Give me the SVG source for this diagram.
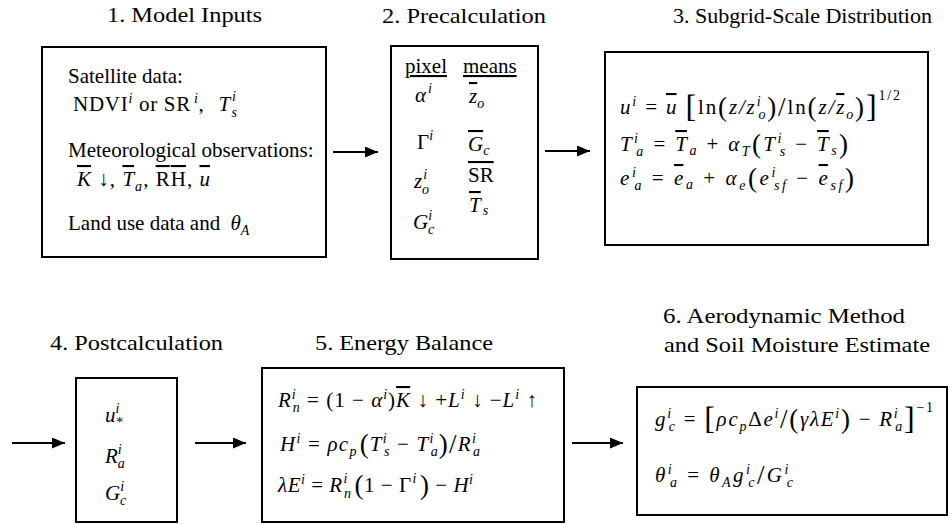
<svg xmlns="http://www.w3.org/2000/svg" width="952" height="524" viewBox="0 0 952 524">
<style>
text { font-family: "Liberation Serif", "Times New Roman", serif; font-size: 21px; fill: #000; }
.i { font-style: italic; }
.s { font-size: 14px; }
.big { font-size: 32px; font-style: normal; }
.med { font-size: 27px; font-style: normal; }
.ov { text-decoration: overline; }
.ul { text-decoration: underline; }
.box { fill: #fff; stroke: #000; stroke-width: 2; }
.conn line { stroke: #000; stroke-width: 2; }
</style>
<defs>
<marker id="ah" markerWidth="13" markerHeight="11" refX="13" refY="5.5" orient="auto" markerUnits="userSpaceOnUse">
<path d="M0,0 L13,5.5 L0,11 z" fill="#000"/>
</marker>
</defs>
<rect width="952" height="524" fill="#fff"/>

<g id="n1">
<text x="107" y="22" textLength="155" lengthAdjust="spacingAndGlyphs">1. Model Inputs</text>
<rect class="box" x="42" y="47" width="284" height="210"/>
<text x="68" y="83">Satellite data:</text>
<text x="73" y="111" textLength="164" lengthAdjust="spacing">NDVI<tspan class="s i" dy="-8">i</tspan><tspan dy="8"> or SR</tspan><tspan class="s i" dy="-8" dx="3">i</tspan><tspan dy="8">, </tspan><tspan class="i" dx="8">T</tspan><tspan class="s i" dy="-10" dx="1">i</tspan><tspan class="s i" dx="-5" dy="16">s</tspan></text>
<text x="68" y="157">Meteorological observations:</text>
<text x="77" y="186" textLength="133" lengthAdjust="spacing"><tspan class="i ov">K</tspan> ↓, <tspan class="i ov">T</tspan><tspan class="s i" dy="5">a</tspan><tspan dy="-5">, </tspan><tspan class="ov">RH</tspan>, <tspan class="i ov">u</tspan></text>
<text x="68" y="230">Land use data and <tspan class="i" dx="5">θ</tspan><tspan class="s i" dy="5">A</tspan></text>
</g>

<g id="n2">
<text x="382" y="23" textLength="164" lengthAdjust="spacingAndGlyphs">2. Precalculation</text>
<rect class="box" x="391" y="46" width="147" height="213"/>
<text x="405" y="73"><tspan class="ul">pixel</tspan><tspan class="ul" x="463">means</tspan></text>
<text class="i" x="415" y="102">α<tspan class="s" dy="-9" dx="2">i</tspan></text>
<text x="417" y="149">Γ<tspan class="s i" dy="-9">i</tspan></text>
<text class="i" x="414" y="188">z<tspan class="s" dy="-9" dx="1">i</tspan><tspan class="s" dx="-5" dy="15">o</tspan></text>
<text class="i" x="413" y="229">G<tspan class="s" dy="-9">i</tspan><tspan class="s" dx="-4" dy="14">c</tspan></text>
<text class="i" x="469" y="103"><tspan class="ov">z</tspan><tspan class="s" dy="5">o</tspan></text>
<text class="i" x="468" y="151"><tspan class="ov">G</tspan><tspan class="s" dy="4">c</tspan></text>
<text x="468" y="182"><tspan class="ov">SR</tspan></text>
<text class="i" x="469" y="212"><tspan class="ov">T</tspan><tspan class="s" dy="3" dx="2">s</tspan></text>
</g>

<g id="n3">
<text x="673" y="23" textLength="259" lengthAdjust="spacingAndGlyphs">3. Subgrid-Scale Distribution</text>
<rect class="box" x="605" y="52" width="323" height="193"/>
<text x="620" y="114" textLength="280" lengthAdjust="spacing"><tspan class="i">u</tspan><tspan class="s i" dy="-8">i</tspan><tspan dy="8"> = </tspan><tspan class="i ov">u</tspan> <tspan class="big" dy="3">[</tspan><tspan dy="-3">ln</tspan><tspan class="med" dy="2">(</tspan><tspan class="i" dy="-2">z/z</tspan><tspan class="s i" dy="-8">i</tspan><tspan class="s i" dx="-4" dy="13">o</tspan><tspan class="med" dy="-3">)</tspan><tspan class="med">/</tspan><tspan dy="-2">ln</tspan><tspan class="med" dy="2">(</tspan><tspan class="i" dy="-2">z/</tspan><tspan class="i ov">z</tspan><tspan class="s i" dy="5">o</tspan><tspan class="med" dy="-3">)</tspan><tspan class="big" dy="1">]</tspan><tspan class="s" dy="-17">1/2</tspan></text>
<text x="620" y="151" textLength="228" lengthAdjust="spacing"><tspan class="i">T</tspan><tspan class="s i" dy="-8">i</tspan><tspan class="s i" dx="-4" dy="13">a</tspan><tspan dy="-5"> = </tspan><tspan class="i ov">T</tspan><tspan class="i s" dy="4">a</tspan><tspan dy="-4"> + </tspan><tspan class="i">α</tspan><tspan class="s i" dy="5">T</tspan><tspan class="med" dy="-3">(</tspan><tspan class="i" dy="-2">T</tspan><tspan class="s i" dy="-8">i</tspan><tspan class="s i" dx="-4" dy="13">s</tspan><tspan dy="-5"> − </tspan><tspan class="i ov">T</tspan><tspan class="i s" dy="4">s</tspan><tspan class="med" dy="-2">)</tspan></text>
<text x="620" y="185" textLength="234" lengthAdjust="spacing"><tspan class="i">e</tspan><tspan class="s i" dy="-8">i</tspan><tspan class="s i" dx="-4" dy="13">a</tspan><tspan dy="-5"> = </tspan><tspan class="i ov">e</tspan><tspan class="i s" dy="4">a</tspan><tspan dy="-4"> + </tspan><tspan class="i">α</tspan><tspan class="s i" dy="5">e</tspan><tspan class="med" dy="-3">(</tspan><tspan class="i" dy="-2">e</tspan><tspan class="s i" dy="-8">i</tspan><tspan class="s i" dx="-4" dy="13">sf</tspan><tspan dy="-5"> − </tspan><tspan class="i ov">e</tspan><tspan class="i s" dy="5">sf</tspan><tspan class="med" dy="-3">)</tspan></text>
</g>

<g id="n4">
<text x="50" y="350" textLength="173" lengthAdjust="spacingAndGlyphs">4. Postcalculation</text>
<rect class="box" x="76" y="378" width="101" height="144"/>
<text class="i" x="105" y="422">u<tspan class="s" dy="-9">i</tspan><tspan class="s" dx="-4" dy="14">*</tspan></text>
<text class="i" x="105" y="463">R<tspan class="s" dy="-9">i</tspan><tspan class="s" dx="-4" dy="14">a</tspan></text>
<text class="i" x="105" y="500">G<tspan class="s" dy="-9">i</tspan><tspan class="s" dx="-4" dy="14">c</tspan></text>
</g>

<g id="n5">
<text x="315" y="350" textLength="178" lengthAdjust="spacingAndGlyphs">5. Energy Balance</text>
<rect class="box" x="262" y="368" width="302" height="154"/>
<text x="278" y="407" textLength="259" lengthAdjust="spacing"><tspan class="i">R</tspan><tspan class="s i" dy="-8">i</tspan><tspan class="s i" dx="-4" dy="13">n</tspan><tspan dy="-5"> = (1 − </tspan><tspan class="i">α</tspan><tspan class="s i" dy="-8">i</tspan><tspan dy="8">)</tspan><tspan class="i ov">K</tspan> ↓ +<tspan class="i">L</tspan><tspan class="s i" dy="-8">i</tspan><tspan dy="8"> ↓ −</tspan><tspan class="i">L</tspan><tspan class="s i" dy="-8">i</tspan><tspan dy="8"> ↑</tspan></text>
<text x="280" y="451" textLength="200" lengthAdjust="spacing"><tspan class="i">H</tspan><tspan class="s i" dy="-8">i</tspan><tspan dy="8"> = </tspan><tspan class="i">ρc</tspan><tspan class="s i" dy="5">p</tspan><tspan class="med" dy="-3" dx="2">(</tspan><tspan class="i" dy="-2">T</tspan><tspan class="s i" dy="-8">i</tspan><tspan class="s i" dx="-4" dy="13">s</tspan><tspan dy="-5"> − </tspan><tspan class="i">T</tspan><tspan class="s i" dy="-8">i</tspan><tspan class="s i" dx="-4" dy="13">a</tspan><tspan class="med" dy="-3">)/</tspan><tspan class="i" dy="-2">R</tspan><tspan class="s i" dy="-8">i</tspan><tspan class="s i" dx="-4" dy="13">a</tspan></text>
<text x="278" y="492" textLength="195" lengthAdjust="spacing"><tspan class="i">λE</tspan><tspan class="s i" dy="-8">i</tspan><tspan dy="8"> = </tspan><tspan class="i">R</tspan><tspan class="s i" dy="-9" dx="1">i</tspan><tspan class="s i" dx="-4" dy="15">n</tspan><tspan class="med" dy="-4" dx="3">(</tspan><tspan dy="-2">1 − Γ</tspan><tspan class="s i" dy="-9" dx="1">i</tspan><tspan class="med" dy="11" dx="3">)</tspan><tspan dy="-2"> − </tspan><tspan class="i">H</tspan><tspan class="s i" dy="-8">i</tspan></text>
</g>

<g id="n6">
<text x="663" y="323" textLength="242" lengthAdjust="spacingAndGlyphs">6. Aerodynamic Method</text>
<text x="664" y="352" textLength="266" lengthAdjust="spacingAndGlyphs">and Soil Moisture Estimate</text>
<rect class="box" x="637" y="387" width="310" height="128"/>
<text x="655" y="426" textLength="278" lengthAdjust="spacing"><tspan class="i">g</tspan><tspan class="s i" dy="-8">i</tspan><tspan class="s i" dx="-4" dy="13">c</tspan><tspan dy="-5"> = </tspan><tspan class="big" dy="3">[</tspan><tspan class="i" dy="-3">ρc</tspan><tspan class="s i" dy="5">p</tspan><tspan dy="-5">Δ</tspan><tspan class="i">e</tspan><tspan class="s i" dy="-8">i</tspan><tspan class="med" dy="10">/(</tspan><tspan class="i" dy="-2">γλE</tspan><tspan class="s i" dy="-8">i</tspan><tspan class="med" dy="10">)</tspan><tspan dy="-2"> − </tspan><tspan class="i">R</tspan><tspan class="s i" dy="-8">i</tspan><tspan class="s i" dx="-4" dy="13">a</tspan><tspan class="big" dy="-2">]</tspan><tspan class="s" dy="-17">−1</tspan></text>
<text x="655" y="482" textLength="138" lengthAdjust="spacing"><tspan class="i">θ</tspan><tspan class="s i" dy="-8">i</tspan><tspan class="s i" dx="-4" dy="13">a</tspan><tspan dy="-5"> = </tspan><tspan class="i">θ</tspan><tspan class="s i" dy="5">A</tspan><tspan class="i" dy="-5">g</tspan><tspan class="s i" dy="-8">i</tspan><tspan class="s i" dx="-4" dy="13">c</tspan><tspan class="med" dy="-3">/</tspan><tspan class="i" dy="-2">G</tspan><tspan class="s i" dy="-8">i</tspan><tspan class="s i" dx="-4" dy="13">c</tspan></text>
</g>

<g id="connectors" class="conn">
<line x1="333" y1="152" x2="378" y2="152" marker-end="url(#ah)"/>
<line x1="545" y1="151" x2="590" y2="151" marker-end="url(#ah)"/>
<line x1="12" y1="443" x2="65" y2="443" marker-end="url(#ah)"/>
<line x1="195" y1="443" x2="246" y2="443" marker-end="url(#ah)"/>
<line x1="572" y1="443" x2="623" y2="443" marker-end="url(#ah)"/>
</g>
</svg>
